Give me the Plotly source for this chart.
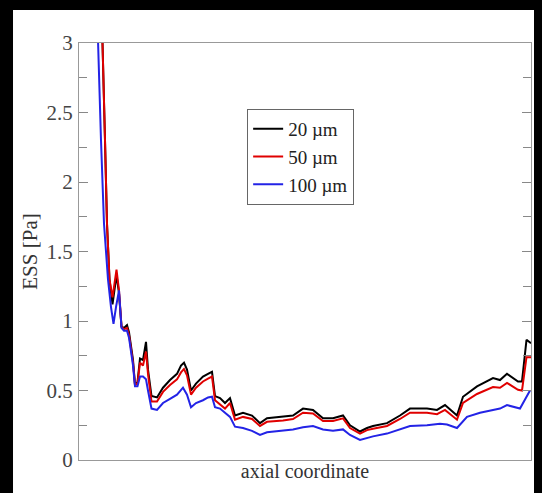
import plotly.graph_objects as go

# axial coordinate (arbitrary units) and ESS [Pa] for the three resolutions
axial_fine = [4.2, 4.7, 5.2, 5.6, 6.1, 6.7, 7.5, 8.0, 8.5, 9.0,
              9.6, 10.0, 10.8, 11.2, 11.7, 12.2, 12.8, 13.4, 13.8, 14.5,
              15.6, 16.8, 18.2, 19.6, 20.4, 21.0, 21.6, 22.4, 23.4, 24.8,
              25.8, 26.6, 27.2, 28.2, 29.2, 30.2, 31.2, 32.8, 34.6, 36.2,
              37.6, 40.8, 42.8, 44.8, 46.8, 48.8, 50.8, 52.8, 54.2, 56.2,
              57.6, 58.8, 61.6, 64.2, 66.2, 69.6, 71.6, 73.2, 75.6, 76.8,
              79.6, 82.8, 84.2, 85.6, 87.8, 88.6, 89.5, 90.4]

ess_20um = [3.5, 3.0, 2.3, 1.7, 1.3, 1.12, 1.33, 1.2, 0.96, 0.95,
            0.97, 0.92, 0.72, 0.54, 0.56, 0.73, 0.72, 0.85, 0.65, 0.46,
            0.45, 0.52, 0.575, 0.62, 0.68, 0.70, 0.65, 0.50, 0.55, 0.60,
            0.62, 0.635, 0.46, 0.445, 0.41, 0.445, 0.32, 0.34, 0.32, 0.265,
            0.30, 0.31, 0.32, 0.37, 0.36, 0.30, 0.30, 0.32, 0.25, 0.205,
            0.23, 0.245, 0.265, 0.32, 0.37, 0.37, 0.36, 0.395, 0.32, 0.455,
            0.53, 0.59, 0.575, 0.62, 0.565, 0.565, 0.865, 0.84]

ess_50um = [3.5, 3.0, 2.3, 1.7, 1.3, 1.17, 1.37, 1.22, 0.96, 0.94,
            0.95, 0.90, 0.70, 0.54, 0.55, 0.70, 0.68, 0.78, 0.62, 0.42,
            0.42, 0.49, 0.54, 0.58, 0.63, 0.655, 0.61, 0.47, 0.52, 0.565,
            0.585, 0.60, 0.43, 0.40, 0.37, 0.41, 0.29, 0.31, 0.295, 0.245,
            0.275, 0.285, 0.295, 0.34, 0.335, 0.28, 0.28, 0.30, 0.23, 0.19,
            0.215, 0.225, 0.245, 0.295, 0.34, 0.34, 0.33, 0.36, 0.29, 0.41,
            0.475, 0.525, 0.52, 0.555, 0.505, 0.50, 0.74, 0.74]

axial_coarse = [3.4, 3.8, 4.4, 5.0, 5.8, 6.4, 6.9, 7.4, 8.0, 8.5,
                9.0, 9.6, 10.0, 10.8, 11.2, 11.7, 12.2, 12.8, 13.4, 13.8,
                14.5, 15.6, 16.8, 18.2, 19.6, 20.8, 21.6, 22.4, 23.4, 24.8,
                25.8, 26.6, 27.2, 28.2, 29.2, 30.2, 31.2, 32.8, 34.6, 36.2,
                37.6, 40.8, 42.8, 44.8, 46.8, 48.8, 50.8, 52.8, 54.2, 56.2,
                57.6, 58.8, 61.6, 64.2, 66.2, 69.6, 72.2, 73.6, 75.6, 77.6,
                80.2, 82.8, 84.2, 85.6, 88.2, 90.2]

ess_100um = [3.5, 3.0, 2.3, 1.7, 1.3, 1.1, 0.98, 1.1, 1.22, 0.95,
             0.93, 0.93, 0.88, 0.68, 0.53, 0.53, 0.60, 0.60, 0.58, 0.50,
             0.37, 0.36, 0.41, 0.44, 0.47, 0.52, 0.47, 0.38, 0.41, 0.43,
             0.45, 0.455, 0.38, 0.37, 0.34, 0.31, 0.24, 0.23, 0.21, 0.18,
             0.20, 0.21, 0.22, 0.235, 0.245, 0.22, 0.21, 0.22, 0.18, 0.145,
             0.16, 0.17, 0.19, 0.22, 0.245, 0.25, 0.26, 0.255, 0.23, 0.31,
             0.34, 0.36, 0.37, 0.395, 0.37, 0.50]

y_ticks = [0, 0.5, 1, 1.5, 2, 2.5, 3]
y_labels = ["0", "0.5", "1", "1.5", "2", "2.5", "3"]

serif = "Liberation Serif, Times New Roman, serif"

fig = go.Figure()
fig.add_trace(go.Scatter(x=axial_fine, y=ess_20um, mode="lines", name="20 µm",
                         line=dict(color="#000000", width=2)))
fig.add_trace(go.Scatter(x=axial_fine, y=ess_50um, mode="lines", name="50 µm",
                         line=dict(color="#e00000", width=2)))
fig.add_trace(go.Scatter(x=axial_coarse, y=ess_100um, mode="lines", name="100 µm",
                         line=dict(color="#2323e6", width=2)))

# white page inside the black screenshot border (top and left)
fig.add_shape(type="rect", xref="paper", yref="paper", layer="below",
              x0=-0.146, x1=1.2, y0=-0.3, y1=1.079,
              fillcolor="white", line=dict(width=0))

fig.update_layout(
    width=534, height=485,
    margin=dict(l=71, r=11, t=35, b=33),
    paper_bgcolor="black",
    plot_bgcolor="white",
    font=dict(family=serif, size=20, color="#333333"),
    showlegend=True,
    legend=dict(x=0.372, y=0.842, xanchor="left", yanchor="top",
                bgcolor="white", bordercolor="#666666", borderwidth=1,
                font=dict(family=serif, size=19, color="#222222"),
                tracegroupgap=0, itemwidth=30),
)
fig.update_xaxes(range=[0, 90.4], showgrid=False, zeroline=False,
                 showline=True, linecolor="#999999", linewidth=1, mirror=True,
                 ticks="", showticklabels=False,
                 title=dict(text="axial coordinate", standoff=3,
                            font=dict(family=serif, size=20, color="#333333")))
fig.update_yaxes(range=[0, 3], showgrid=False, zeroline=False,
                 showline=True, linecolor="#999999", linewidth=1, mirror="allticks",
                 tickvals=y_ticks, ticktext=y_labels, ticks="inside", ticklen=9,
                 tickcolor="#888888", ticklabelstandoff=1,
                 minor=dict(dtick=0.25, ticks="inside", ticklen=8, tickcolor="#888888"),
                 tickfont=dict(family=serif, size=21, color="#444444"),
                 title=dict(text="ESS [Pa]", standoff=3,
                            font=dict(family=serif, size=21, color="#333333")))

fig.write_html("out.html", post_script="document.body.style.background='black';")
